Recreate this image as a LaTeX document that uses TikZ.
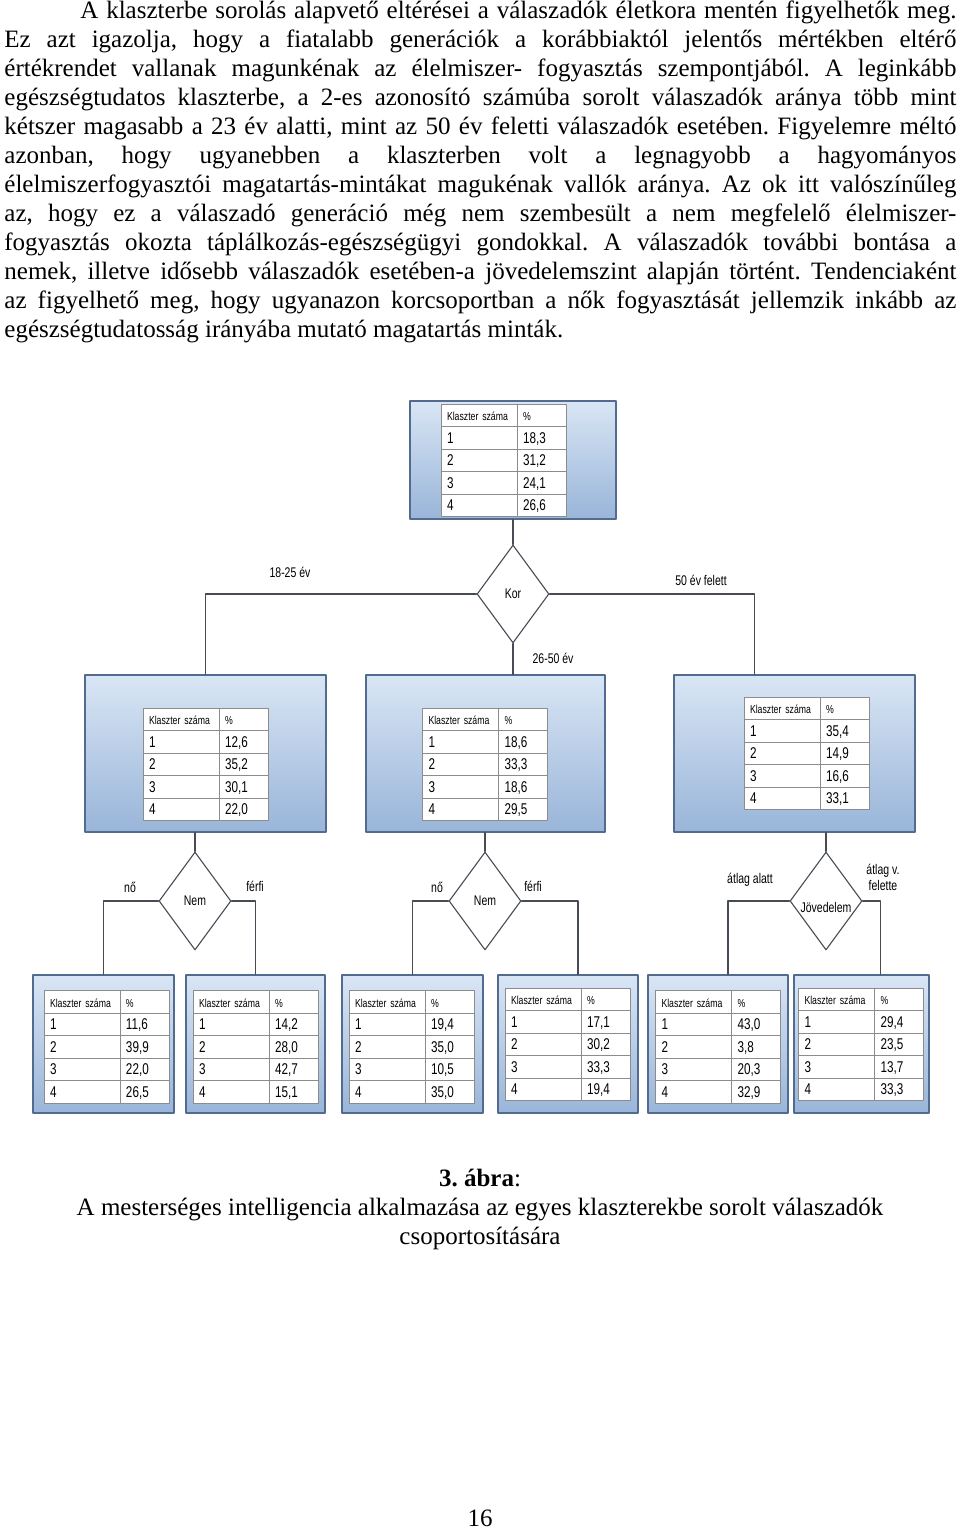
\documentclass[tikz,border=0pt]{standalone}
\usepackage{fontspec}
\setmainfont{Liberation Serif}
\newfontfamily\diafont[FakeStretch=0.75]{Liberation Sans}
\usepackage{tikz}
\usetikzlibrary{shapes.geometric}
\usetikzlibrary{matrix}
\frenchspacing
\definecolor{boxtop}{rgb}{0.85,0.9,0.96}
\definecolor{boxbot}{rgb}{0.6,0.71,0.85}
\definecolor{boxline}{rgb}{0.32,0.42,0.56}
\definecolor{cellgray}{rgb}{0.55,0.55,0.55}
\definecolor{linegray}{rgb}{0.28,0.3,0.33}
\tikzstyle{every node}=[font=\diafont\fontsize{7}{8}\selectfont]
\tikzstyle{clbox}=[draw=boxline,line width=0.6pt,top color=boxtop,bottom color=boxbot,minimum height=78.5pt,inner sep=0pt]
\tikzstyle{decision}=[diamond,draw=linegray,line width=0.55pt,minimum width=36pt,minimum height=49pt,inner sep=0pt]
\tikzstyle{conn}=[draw=linegray,line width=0.55pt]
\tikzstyle{cltab}=[matrix of nodes,column sep=-0.5pt,row sep=-0.5pt,inner sep=0pt,
  nodes={draw=cellgray,line width=0.5pt,fill=white,minimum height=11.25pt,inner xsep=3pt,inner ysep=0pt,
    align=left,text height=5.4pt,text depth=0pt,font=\diafont\fontsize{7.8}{8}\selectfont},
  column 1/.style={nodes={text width=32pt}},
  column 2/.style={nodes={text width=18.5pt}},
  row 1/.style={nodes={font=\diafont\fontsize{5.8}{7}\selectfont}}]

\begin{document}
\begin{tikzpicture}[line cap=round,line join=round,x=0.5pt,y=-0.5pt]
\path[fill=white,use as bounding box] (0,0) rectangle (960,1529);
% szoveg
\node[anchor=north west,inner sep=0pt,text width=476pt,align=justify,font=\fontsize{12.5}{14.5}\selectfont] (para) at (4,-2) {\hyphenpenalty=10000\tolerance=9999\strut\hspace*{38pt}A klaszterbe sorolás alapvető eltérései a válaszadók életkora mentén figyelhetők meg.\linebreak
Ez azt igazolja, hogy a fiatalabb generációk a korábbiaktól jelentős mértékben eltérő\linebreak
értékrendet vallanak magunkénak az élelmiszer- fogyasztás szempontjából. A leginkább\linebreak
egészségtudatos klaszterbe, a 2-es azonosító számúba sorolt válaszadók aránya több mint\linebreak
kétszer magasabb a 23 év alatti, mint az 50 év feletti válaszadók esetében. Figyelemre méltó\linebreak
azonban, hogy ugyanebben a klaszterben volt a legnagyobb a hagyományos\linebreak
élelmiszerfogyasztói magatartás-mintákat magukénak vallók aránya. Az ok itt valószínűleg\linebreak
az, hogy ez a válaszadó generáció még nem szembesült a nem megfelelő élelmiszer-\linebreak
fogyasztás okozta táplálkozás-egészségügyi gondokkal. A válaszadók további bontása a\linebreak
nemek, illetve idősebb válaszadók esetében-a jövedelemszint alapján történt. Tendenciaként\linebreak
az figyelhető meg, hogy ugyanazon korcsoportban a nők fogyasztását jellemzik inkább az\linebreak
egészségtudatosság irányába mutató magatartás minták.};
% dobozok
\node[clbox,minimum width=103pt,minimum height=59pt] (top) at (513,460) {};
\matrix[cltab] (ttop) at (503.5,460.5) {Klaszter száma & \% \\ 1 & 18,3 \\ 2 & 31,2 \\ 3 & 24,1 \\ 4 & 26,6 \\};
\node[clbox,minimum width=120.5pt] (age1) at (205.5,753.5) {};
\matrix[cltab] (tage1) at (205.5,764.5) {Klaszter száma & \% \\ 1 & 12,6 \\ 2 & 35,2 \\ 3 & 30,1 \\ 4 & 22,0 \\};
\node[clbox,minimum width=119.5pt] (age2) at (485.5,753.5) {};
\matrix[cltab] (tage2) at (485,764.5) {Klaszter száma & \% \\ 1 & 18,6 \\ 2 & 33,3 \\ 3 & 18,6 \\ 4 & 29,5 \\};
\node[clbox,minimum width=120.5pt] (age3) at (794.5,753.5) {};
\matrix[cltab] (tage3) at (806.5,753.5) {Klaszter száma & \% \\ 1 & 35,4 \\ 2 & 14,9 \\ 3 & 16,6 \\ 4 & 33,1 \\};
\node[clbox,minimum width=70.5pt,minimum height=69pt] (ga) at (103.5,1044) {};
\matrix[cltab] (tga) at (106.5,1047) {Klaszter száma & \% \\ 1 & 11,6 \\ 2 & 39,9 \\ 3 & 22,0 \\ 4 & 26,5 \\};
\node[clbox,minimum width=69.5pt,minimum height=69pt] (gb) at (255.5,1044) {};
\matrix[cltab] (tgb) at (255.5,1047) {Klaszter száma & \% \\ 1 & 14,2 \\ 2 & 28,0 \\ 3 & 42,7 \\ 4 & 15,1 \\};
\node[clbox,minimum width=70.5pt,minimum height=69pt] (gc) at (412.5,1044) {};
\matrix[cltab] (tgc) at (411.5,1047) {Klaszter száma & \% \\ 1 & 19,4 \\ 2 & 35,0 \\ 3 & 10,5 \\ 4 & 35,0 \\};
\node[clbox,minimum width=70pt,minimum height=69pt] (gd) at (568,1044) {};
\matrix[cltab] (tgd) at (567.5,1044.5) {Klaszter száma & \% \\ 1 & 17,1 \\ 2 & 30,2 \\ 3 & 33,3 \\ 4 & 19,4 \\};
\node[clbox,minimum width=70pt,minimum height=69pt] (ge) at (718,1044) {};
\matrix[cltab] (tge) at (718,1047) {Klaszter száma & \% \\ 1 & 43,0 \\ 2 & 3,8 \\ 3 & 20,3 \\ 4 & 32,9 \\};
\node[clbox,minimum width=67.5pt,minimum height=69pt] (gf) at (861.5,1044) {};
\matrix[cltab] (tgf) at (861,1044.5) {Klaszter száma & \% \\ 1 & 29,4 \\ 2 & 23,5 \\ 3 & 13,7 \\ 4 & 33,3 \\};
% dontesek
\node[decision] (kor) at (513,594) {Kor};
\node[decision] (nem1) at (195,901) {Nem};
\node[decision] (nem2) at (485,901) {Nem};
\node[decision,label={[yshift=-3pt]center:Jövedelem}] (jov) at (826,901) {};
% vonalak
\draw[conn] (top.south) -- (kor.north);
\draw[conn] (kor.west) -| (age1.north);
\draw[conn] (kor.south) -- (kor.south |- age2.north);
\draw[conn] (kor.east) -| ([xshift=-20pt]age3.north);
\draw[conn] (nem1.north |- age1.south) -- (nem1.north);
\draw[conn] (nem2.north |- age2.south) -- (nem2.north);
\draw[conn] (jov.north |- age3.south) -- (jov.north);
\draw[conn] (nem1.west) -| (ga.north);
\draw[conn] (nem1.east) -| (gb.north);
\draw[conn] (nem2.west) -| (gc.north);
\draw[conn] (nem2.east) -| ([xshift=5pt]gd.north);
\draw[conn] (jov.west) -| ([xshift=5pt]ge.north);
\draw[conn] (jov.east) -| ([xshift=9.5pt]gf.north);
% feliratok
\node (l1825) at (290,572) {18-25 év};
\node (l2650) at (553,658) {26-50 év};
\node (l50) at (701,580) {50 év felett};
\node (lno1) at (130,887) {nő};
\node (lffi1) at (255,886) {férfi};
\node (lno2) at (437,887) {nő};
\node (lffi2) at (533,886) {férfi};
\node (lalatt) at (750,880) {átlag alatt};
\node[align=center] (lfelette) at (883,877) {átlag v.\\felette};
% abracim
\node[anchor=north,align=center,inner sep=0pt,font=\fontsize{12.5}{14.5}\selectfont] (capt) at (480,1166) {\strut\textbf{3. ábra}:\\A mesterséges intelligencia alkalmazása az egyes klaszterekbe sorolt válaszadók\\csoportosítására};
\node[anchor=base,inner sep=0pt,font=\fontsize{12.5}{14.5}\selectfont] (pnum) at (480,1526) {16};
\end{tikzpicture}
\end{document}
